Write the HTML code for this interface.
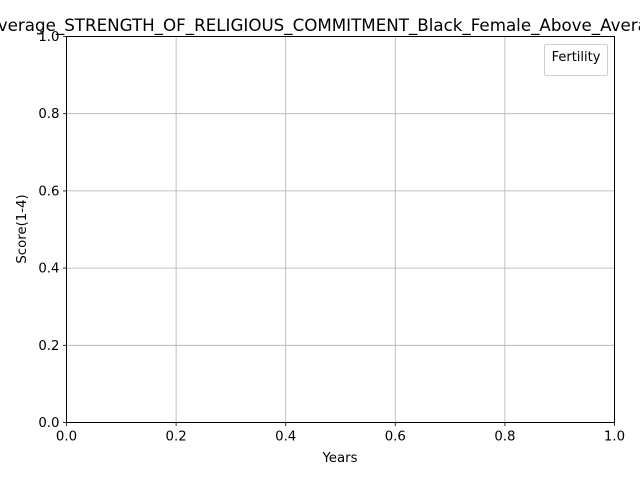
<!DOCTYPE html>
<html><head><meta charset="utf-8"><style>
html,body{margin:0;padding:0;background:#fff;}
svg{display:block;font-family:"DejaVu Sans","Liberation Sans",sans-serif;}
</style></head><body>
<svg id="chart" width="640" height="480">
<text x="328" y="31" font-size="16.7" text-anchor="middle">Average_STRENGTH_OF_RELIGIOUS_COMMITMENT_Black_Female_Above_Average</text>
<g id="grid"></g>
<g id="ticks"></g>
<rect x="66.5" y="36.5" width="548" height="386" fill="none" stroke="#000" stroke-width="1"/>
<text x="340" y="462" font-size="13.3" text-anchor="middle">Years</text>
<text x="26" y="229" font-size="13.3" text-anchor="middle" transform="rotate(-90 26 229)">Score(1-4)</text>
<g>
<rect x="544.5" y="44.5" width="63" height="31" rx="2" fill="#fff" stroke="#ccc"/>
<text x="576" y="61" font-size="13" text-anchor="middle">Fertility</text>
</g>
</svg>
<script>
const xTicks=[0,0.2,0.4,0.6,0.8,1.0];
const yTicks=[0,0.2,0.4,0.6,0.8,1.0];
const xLabels=["0.0","0.2","0.4","0.6","0.8","1.0"];
const yLabels=["0.0","0.2","0.4","0.6","0.8","1.0"];
const X0=66.5,X1=614.5,Y0=422.5,Y1=36.5;
const sx=v=>X0+(X1-X0)*v, sy=v=>Y0+(Y1-Y0)*v;
const NS="http://www.w3.org/2000/svg";
const grid=document.getElementById('grid'), tk=document.getElementById('ticks');
function mk(tag,attrs,parent){const e=document.createElementNS(NS,tag);for(const k in attrs)e.setAttribute(k,attrs[k]);parent.appendChild(e);return e;}
xTicks.forEach((v,i)=>{
 const x=sx(v);
 const g=mk('line',{x1:x,x2:x,y1:Y1,y2:Y0,stroke:'#b0b0b0','stroke-width':0.8},grid);
 
 
 const t=mk('line',{x1:x,x2:x,y1:Y0,y2:Y0+3.5,stroke:'#000','stroke-width':0.8},tk);
 
 
 const l=mk('text',{x:x,y:Y0+18,'font-size':13.3,'text-anchor':'middle'},tk);
 l.textContent=xLabels[i];
 
 
});
yTicks.forEach((v,i)=>{
 const y=sy(v);
 const g=mk('line',{x1:X0,x2:X1,y1:y,y2:y,stroke:'#b0b0b0','stroke-width':0.8},grid);
 
 
 const t=mk('line',{x1:X0-3.5,x2:X0,y1:y,y2:y,stroke:'#000','stroke-width':0.8},tk);
 
 
 const l=mk('text',{x:X0-7,y:y+4.5,'font-size':13.3,'text-anchor':'end'},tk);
 l.textContent=yLabels[i];
 
 
});
</script>
</body></html>
